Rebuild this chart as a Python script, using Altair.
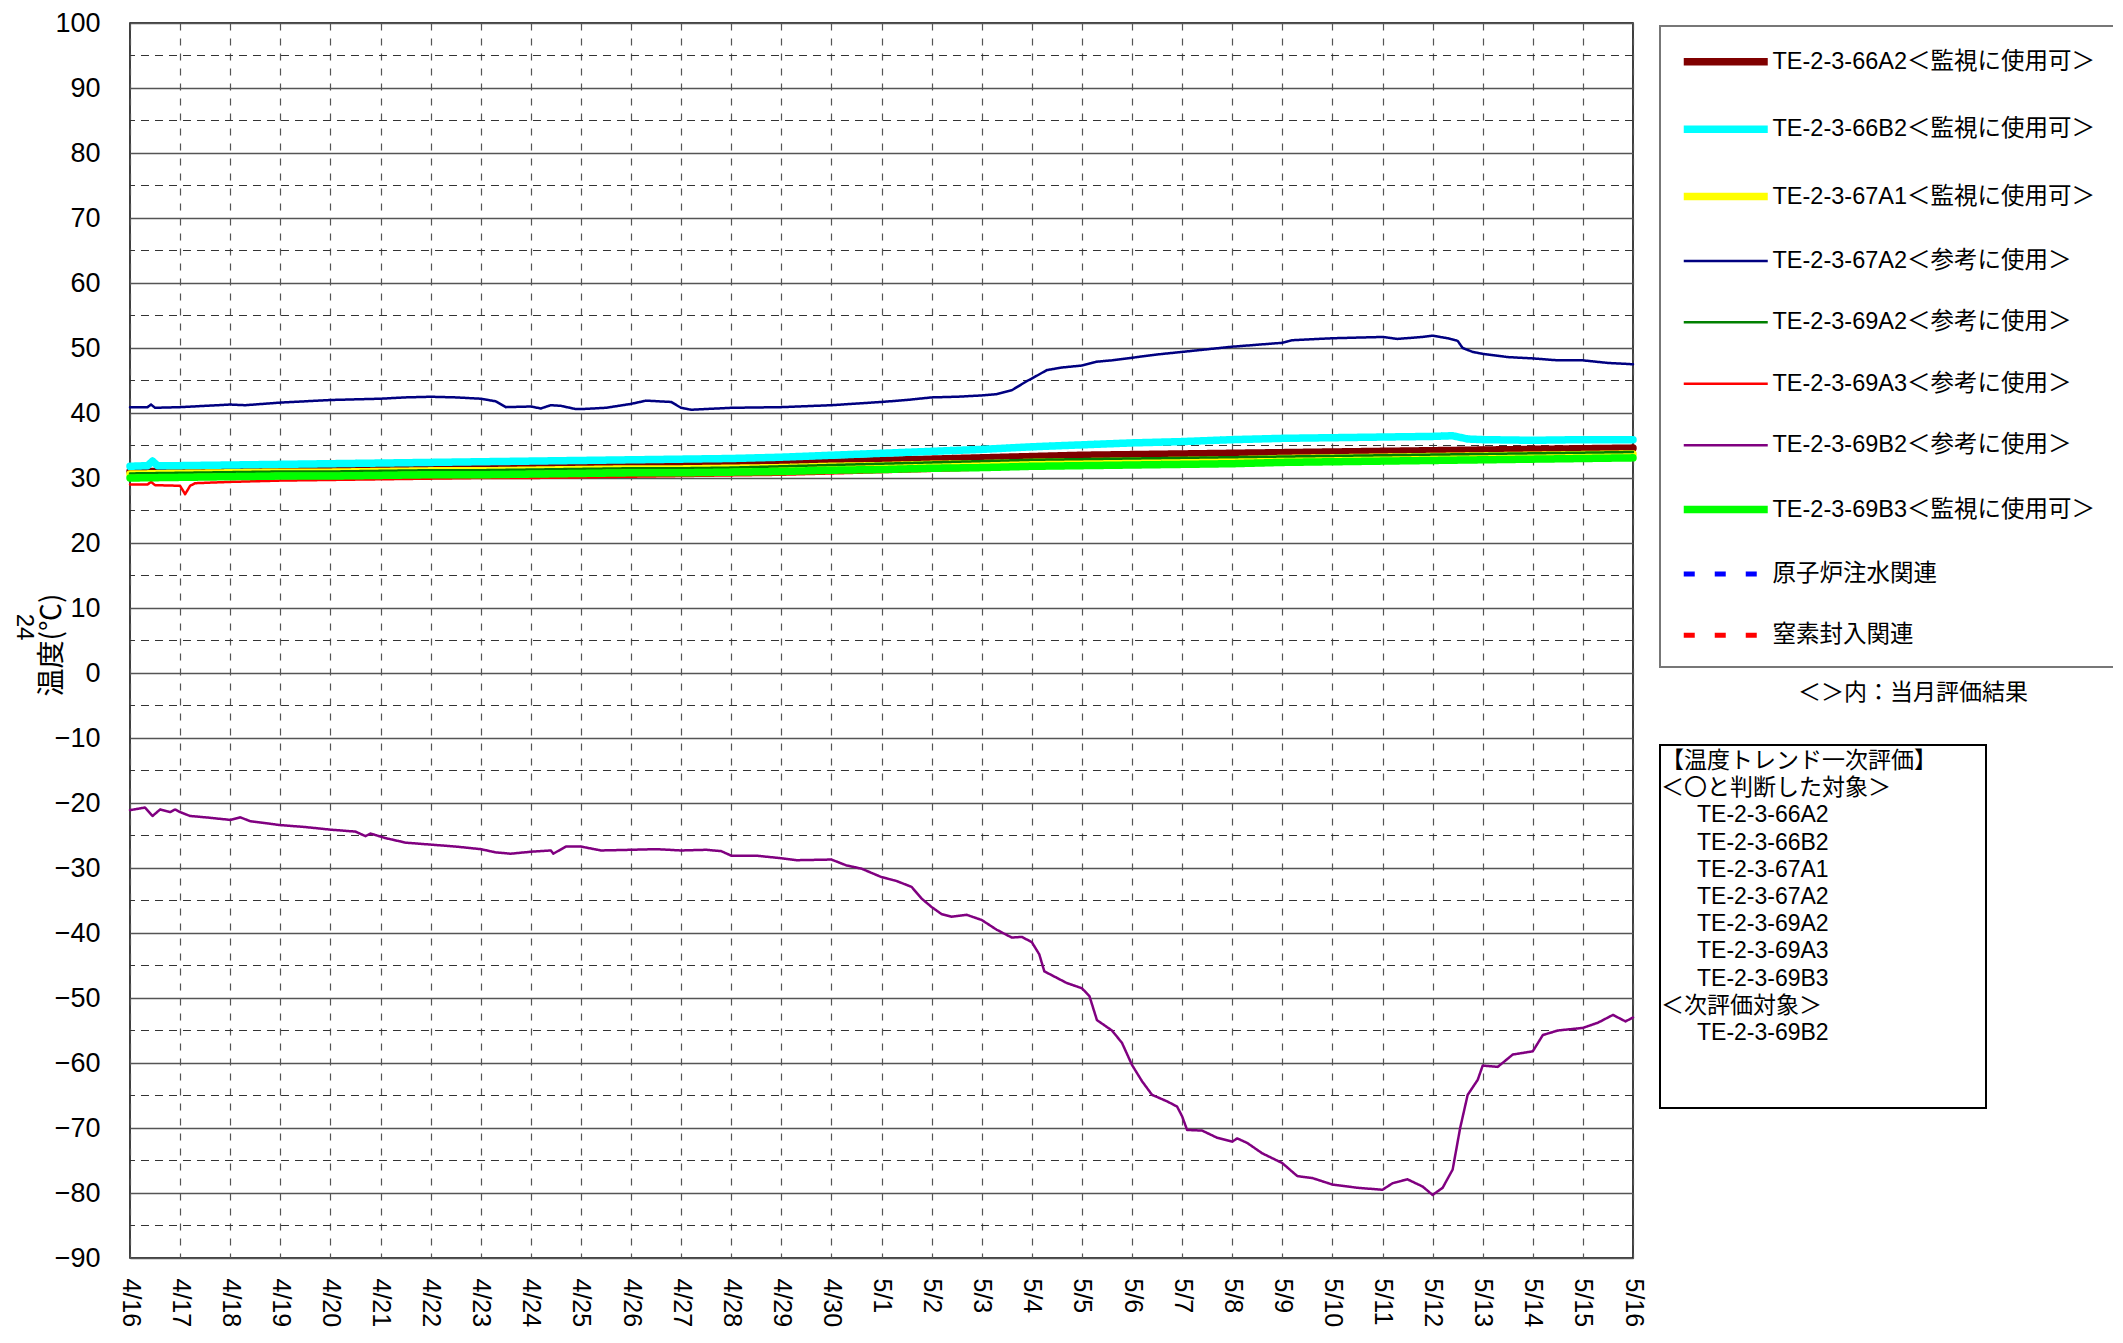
import json
import altair as alt
import pandas as pd

CJK = "Noto Sans CJK JP"
MIX = "Liberation Sans, Noto Sans CJK JP"
NUMF = "Liberation Sans"

NAMES = ["TE-2-3-66A2＜監視に使用可＞", "TE-2-3-66B2＜監視に使用可＞", "TE-2-3-67A1＜監視に使用可＞",
         "TE-2-3-67A2＜参考に使用＞", "TE-2-3-69A2＜参考に使用＞", "TE-2-3-69A3＜参考に使用＞",
         "TE-2-3-69B2＜参考に使用＞", "TE-2-3-69B3＜監視に使用可＞", "原子炉注水関連", "窒素封入関連"]
COLORS = ["#800000", "#00FFFF", "#FFFF00", "#000080", "#008000", "#FF0000",
          "#800080", "#00FF00", "#0000FF", "#FF0000"]
WIDTHS = [7.5, 7.5, 7.5, 2.5, 2.5, 2.5, 2.5, 7.5, 5, 5]
DASHES = [[1, 0]] * 8 + [[11, 20], [11, 20]]

X_LABELS = ["4/16", "4/17", "4/18", "4/19", "4/20", "4/21", "4/22", "4/23", "4/24", "4/25",
            "4/26", "4/27", "4/28", "4/29", "4/30", "5/1", "5/2", "5/3", "5/4", "5/5",
            "5/6", "5/7", "5/8", "5/9", "5/10", "5/11", "5/12", "5/13", "5/14", "5/15", "5/16"]
X_TICKS = [0, 1, 2, 3, 4, 5, 6, 7, 8, 9, 10, 11, 12, 13, 14, 15, 16, 17, 18, 19, 20,
           21, 22, 23, 24, 25, 26, 27, 28, 29, 30]
Y_TICKS = [-90, -80, -70, -60, -50, -40, -30, -20, -10, 0, 10, 20, 30, 40, 50, 60, 70, 80, 90, 100]
Y_HALF = [-85, -75, -65, -55, -45, -35, -25, -15, -5, 5, 15, 25, 35, 45, 55, 65, 75, 85, 95]

DAYS = [0, 1, 2, 3, 4, 5, 6, 7, 8, 9, 10, 11, 12, 13, 14, 15, 16, 17, 18, 19, 20,
        21, 22, 23, 24, 25, 26, 27, 28, 29, 30]

# TE-2-3-66A2
S66A2_V = [31.0, 31.0, 31.1, 31.2, 31.2, 31.3, 31.4, 31.5, 31.6, 31.7, 31.8, 31.9, 32.0, 32.2, 32.4, 32.7,
           32.9, 33.1, 33.3, 33.5, 33.6, 33.7, 33.8, 33.9, 34.0, 34.1, 34.2, 34.3, 34.4, 34.5, 34.6]
# TE-2-3-66B2
S66B2_D = [0, 0.35, 0.45, 0.55, 1, 2, 3, 4, 5, 6, 7, 8, 9, 10, 11, 12, 13, 14, 15, 16, 17, 18, 19, 20,
           21, 22, 23, 24, 25, 26, 26.4, 26.7, 27, 28, 29, 30]
S66B2_V = [31.8, 31.9, 32.6, 31.9, 31.9, 32.0, 32.1, 32.2, 32.3, 32.4, 32.5, 32.6, 32.7, 32.8, 32.9, 33.0,
           33.2, 33.5, 33.8, 34.1, 34.4, 34.8, 35.1, 35.4, 35.6, 35.9, 36.1, 36.2, 36.3, 36.4, 36.5, 36.0,
           35.9, 35.8, 35.9, 35.9]
# TE-2-3-67A1
S67A1_V = [30.6, 30.7, 30.8, 30.9, 30.9, 31.0, 31.1, 31.1, 31.2, 31.3, 31.4, 31.4, 31.5, 31.6, 31.8, 31.9,
           32.1, 32.2, 32.4, 32.5, 32.6, 32.7, 32.8, 33.0, 33.1, 33.2, 33.3, 33.4, 33.5, 33.6, 33.7]
# TE-2-3-67A2
S67A2_D = [0, 0.35, 0.42, 0.5, 1, 2, 2.3, 3, 4, 5, 5.5, 6, 6.5, 7, 7.3, 7.5, 8, 8.2, 8.4, 8.6, 8.9, 9, 9.5,
           10, 10.3, 10.8, 11, 11.2, 12, 13, 14, 15, 15.5, 16, 16.5, 17, 17.3, 17.6, 17.9, 18, 18.3, 18.6,
           19, 19.3, 19.6, 20, 20.5, 21, 21.5, 22, 22.5, 23, 23.2, 24, 25, 25.3, 25.8, 26, 26.3, 26.5, 26.6,
           26.8, 27, 27.5, 28, 28.5, 29, 29.5, 30]
S67A2_V = [40.9, 40.9, 41.3, 40.8, 40.9, 41.3, 41.2, 41.6, 42.0, 42.2, 42.4, 42.5, 42.4, 42.2, 41.8, 40.9,
           41.0, 40.7, 41.2, 41.1, 40.6, 40.6, 40.8, 41.4, 41.9, 41.7, 40.8, 40.5, 40.8, 40.9, 41.2, 41.7,
           42.0, 42.4, 42.5, 42.7, 42.9, 43.5, 44.9, 45.3, 46.6, 47.0, 47.3, 47.9, 48.1, 48.5, 49.0, 49.4,
           49.8, 50.2, 50.5, 50.8, 51.2, 51.5, 51.7, 51.4, 51.7, 51.9, 51.5, 51.1, 50.0, 49.4, 49.1, 48.6,
           48.4, 48.1, 48.1, 47.7, 47.5]
# TE-2-3-69A2
S69A2_V = [30.7, 30.8, 30.9, 31.0, 31.0, 31.1, 31.2, 31.2, 31.3, 31.4, 31.5, 31.5, 31.6, 31.8, 32.0, 32.2,
           32.4, 32.6, 32.8, 32.9, 33.0, 33.1, 33.2, 33.3, 33.4, 33.5, 33.6, 33.7, 33.8, 33.9, 34.0]
# TE-2-3-69A3
S69A3_D = [0, 0.35, 0.42, 0.5, 1, 1.1, 1.2, 1.3, 2, 3, 4, 5, 6, 7, 8, 9, 10, 11, 12, 13, 14, 15, 16, 17,
           18, 19, 20, 21, 22, 23, 24, 25, 26, 27, 28, 29, 30]
S69A3_V = [29.0, 29.0, 29.4, 28.9, 28.8, 27.5, 28.8, 29.2, 29.4, 29.6, 29.7, 29.8, 29.9, 30.0, 30.0, 30.1,
           30.2, 30.3, 30.4, 30.5, 30.7, 30.9, 31.1, 31.3, 31.6, 31.9, 32.0, 32.1, 32.2, 32.3, 32.4, 32.5,
           32.6, 32.7, 32.8, 32.9, 33.0]
# TE-2-3-69B2
S69B2_D = [0, 0.3, 0.45, 0.6, 0.8, 0.9, 1, 1.2, 1.5, 2, 2.2, 2.4, 3, 3.5, 4, 4.5, 4.7, 4.8, 5.1, 5.5, 6,
           6.5, 7, 7.3, 7.6, 8, 8.4, 8.45, 8.7, 9, 9.4, 10, 10.5, 11, 11.5, 11.8, 12, 12.5, 13, 13.3, 14,
           14.3, 14.6, 15, 15.3, 15.6, 15.8, 16, 16.2, 16.4, 16.7, 17, 17.3, 17.6, 17.8, 18, 18.15, 18.25,
           18.5, 18.7, 19, 19.15, 19.3, 19.6, 19.8, 20, 20.2, 20.4, 20.7, 20.9, 21, 21.1, 21.4, 21.7, 22,
           22.1, 22.3, 22.6, 23, 23.3, 23.6, 24, 24.5, 25, 25.2, 25.5, 25.8, 26, 26.2, 26.4, 26.55, 26.7,
           26.9, 27, 27.3, 27.6, 28, 28.2, 28.5, 29, 29.3, 29.6, 29.85, 30]
S69B2_V = [-21.1, -20.7, -22.0, -21.0, -21.4, -21.0, -21.4, -22.0, -22.2, -22.6, -22.2, -22.8, -23.4,
           -23.7, -24.1, -24.4, -25.1, -24.7, -25.4, -26.1, -26.4, -26.7, -27.1, -27.6, -27.8, -27.5,
           -27.3, -27.8, -26.7, -26.7, -27.3, -27.2, -27.1, -27.3, -27.2, -27.4, -28.1, -28.1, -28.5,
           -28.8, -28.7, -29.6, -30.1, -31.4, -32.0, -32.9, -34.7, -36.0, -37.1, -37.5, -37.2, -38.0,
           -39.5, -40.7, -40.6, -41.4, -43.3, -45.9, -46.9, -47.7, -48.5, -49.7, -53.4, -55.0, -56.9,
           -60.3, -62.8, -64.9, -65.9, -66.7, -68.2, -70.3, -70.4, -71.5, -72.1, -71.6, -72.3, -73.9,
           -75.4, -77.4, -77.7, -78.7, -79.2, -79.5, -78.5, -77.9, -79.0, -80.3, -79.2, -76.4, -70.0,
           -64.9, -62.6, -60.4, -60.6, -58.7, -58.2, -55.7, -55.0, -54.6, -53.8, -52.6, -53.6, -53.0]
# TE-2-3-69B3
S69B3_V = [30.0, 30.1, 30.2, 30.3, 30.3, 30.4, 30.5, 30.5, 30.6, 30.7, 30.8, 30.8, 30.9, 31.0, 31.2, 31.3,
           31.5, 31.6, 31.8, 31.9, 32.0, 32.1, 32.2, 32.4, 32.5, 32.6, 32.7, 32.8, 32.9, 33.0, 33.1]

BOX_HEAD1 = ["【温度トレンド一次評価】", "＜〇と判断した対象＞"]
BOX_ITEMS1 = ["TE-2-3-66A2", "TE-2-3-66B2", "TE-2-3-67A1", "TE-2-3-67A2", "TE-2-3-69A2",
              "TE-2-3-69A3", "TE-2-3-69B3"]
BOX_HEAD2 = ["＜次評価対象＞"]
BOX_ITEMS2 = ["TE-2-3-69B2"]
NOTE = "＜＞内：当月評価結果"
Y_TITLE = "温度(℃)"
PAGE_NO = "24"

series_pts = [
    (NAMES[0], DAYS, S66A2_V),
    (NAMES[1], S66B2_D, S66B2_V),
    (NAMES[2], DAYS, S67A1_V),
    (NAMES[3], S67A2_D, S67A2_V),
    (NAMES[4], DAYS, S69A2_V),
    (NAMES[5], S69A3_D, S69A3_V),
    (NAMES[6], S69B2_D, S69B2_V),
    (NAMES[7], DAYS, S69B3_V),
]
rows = []
for name, ds, vs in series_pts:
    assert len(ds) == len(vs), name
    for d, v in zip(ds, vs):
        rows.append({"series": name, "day": d, "value": v})
df = pd.DataFrame(rows)

W, H = 1503, 1235

xscale = alt.Scale(domain=[0, 30], nice=False, zero=False)
yscale = alt.Scale(domain=[-90, 100], nice=False, zero=False)

label_expr = json.dumps(X_LABELS) + "[datum.value]"

leg = alt.Legend(title=None, orient="none", legendX=1530, legendY=4, direction="vertical",
                 symbolType="M-6,0L6,0", symbolSize=196, symbolOffset=31,
                 labelOffset=35, rowPadding=36.4, padding=23, strokeColor="transparent",
                 fillColor="transparent", labelFont=MIX, labelFontSize=23.5, labelColor="black",
                 labelLimit=0, labelBaseline="middle", symbolFillColor="transparent")

lines = alt.Chart(df).mark_line(strokeCap="round", strokeJoin="round").encode(
    x=alt.X("day:Q", scale=xscale,
            axis=alt.Axis(values=X_TICKS, labelExpr=label_expr, labelAngle=90, labelAlign="left",
                          labelBaseline="middle", labelFontSize=25, labelFont=NUMF, labelColor="black",
                          labelPadding=20, labelOverlap=False, labelBound=False, ticks=False,
                          domain=False, grid=True, gridDash=[7, 8], gridColor="#555",
                          gridWidth=1.2, title=None)),
    y=alt.Y("value:Q", scale=yscale,
            axis=alt.Axis(values=Y_TICKS, labelFontSize=27, labelFont=NUMF, labelColor="black",
                          labelPadding=30, ticks=False, domain=False, grid=True, gridColor="#555",
                          gridWidth=1.5, title=None)),
    color=alt.Color("series:N", scale=alt.Scale(domain=NAMES, range=COLORS), legend=leg),
    strokeWidth=alt.StrokeWidth("series:N", scale=alt.Scale(type="ordinal", domain=NAMES, range=WIDTHS),
                                legend=leg),
    strokeDash=alt.StrokeDash("series:N", scale=alt.Scale(domain=NAMES, range=DASHES), legend=leg),
)

half = alt.Chart(pd.DataFrame({"value": Y_HALF})).mark_rule(
    strokeDash=[8, 6], color="#333", strokeWidth=1.2).encode(y=alt.Y("value:Q", scale=yscale))


def one():
    return alt.Chart(alt.Data(values=[{}]))


def txt(text, x, y, size=23, angle=0, align="left", baseline="alphabetic", lh=None, font=MIX):
    kw = dict(text=text, fontSize=size, font=font, angle=angle, align=align,
              baseline=baseline, color="black")
    if lh is not None:
        kw["lineHeight"] = lh
    return one().mark_text(**kw).encode(x=alt.value(x), y=alt.value(y))


legend_frame = one().mark_rect(fill="white", stroke="#777", strokeWidth=2).encode(
    x=alt.value(1530), x2=alt.value(2100), y=alt.value(3), y2=alt.value(644))

box = one().mark_rect(fill="white", stroke="black", strokeWidth=2).encode(
    x=alt.value(1530), x2=alt.value(1856), y=alt.value(722), y2=alt.value(1085))

LH = 27.2
Y0 = 745
layers = [
    half, legend_frame, lines, box,
    txt(BOX_HEAD1, 1531, Y0, lh=LH),
    txt(BOX_ITEMS1, 1567, Y0 + 2 * LH, lh=LH),
    txt(BOX_HEAD2, 1531, Y0 + 9 * LH, lh=LH),
    txt(BOX_ITEMS2, 1567, Y0 + 10 * LH, lh=LH),
    txt(NOTE, 1783, 670, size=23, align="center", baseline="middle"),
    txt(Y_TITLE, -77, 622, size=28, angle=270, align="center", baseline="middle", font=CJK),
    txt(PAGE_NO, -106, 604, size=24, angle=90, align="center", baseline="middle", font=NUMF),
]

chart = alt.layer(*layers).properties(
    width=W, height=H,
    autosize=alt.AutoSizeParams(type="none"),
    padding={"left": 122, "top": 15, "right": 480, "bottom": 72},
).configure_view(stroke="black", strokeWidth=1.5)

chart.save("out.html", embed_options={"renderer": "svg", "actions": False})
